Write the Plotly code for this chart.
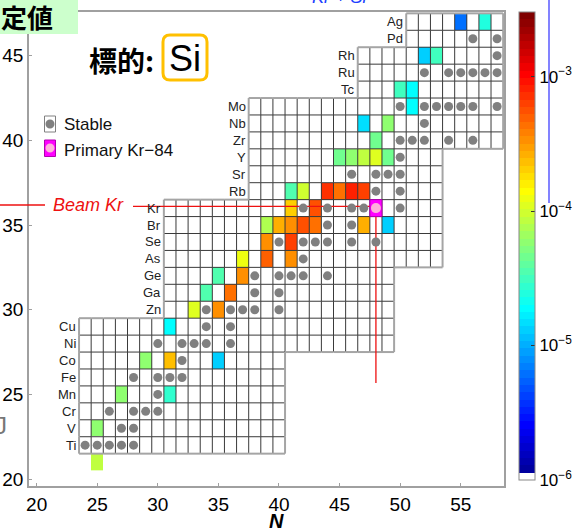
import math
import plotly.graph_objects as go

# ---------------- data ----------------
elements = ['Ti', 'V', 'Cr', 'Mn', 'Fe', 'Co', 'Ni', 'Cu', 'Zn', 'Ga', 'Ge', 'As', 'Se',
            'Br', 'Kr', 'Rb', 'Sr', 'Y', 'Zr', 'Nb', 'Mo', 'Tc', 'Ru', 'Rh', 'Pd', 'Ag']
element_Z = list(range(22, 48))
row_Nmin = [24] * 8 + [31] * 7 + [38] * 6 + [47] * 3 + [51] * 2
row_Nmax = [40] * 6 + [49] * 5 + [53] * 7 + [58] * 8

stable_Z = [22, 23, 24, 25, 26, 27, 28, 29, 30, 31, 32, 33, 34, 35, 36, 37, 38, 39,
            40, 41, 42, 44, 45, 46]
stable_N = [[24, 25, 26, 27, 28], [27, 28], [26, 28, 29, 30], [30], [28, 30, 31, 32],
            [32], [30, 32, 33, 34, 36], [34, 36], [34, 36, 37, 38, 40], [38, 40],
            [38, 40, 41, 42, 44], [42], [40, 42, 43, 44, 46, 48], [44, 46],
            [42, 44, 46, 47, 50], [48, 50], [46, 48, 49, 50], [50],
            [50, 51, 52, 54, 56], [52], [50, 52, 53, 54, 55, 56, 58],
            [52, 54, 55, 56, 57, 58], [58], [56, 58]]

primary_Z = 36
primary_N = 48
primary_name = 'Kr-84'

yield_Z = [21, 23, 25, 25, 27, 27, 27, 29, 30, 30, 31, 31, 32, 32, 33, 33, 33, 34, 34,
           35, 35, 35, 35, 35, 35, 35, 36, 36, 37, 37, 37, 37, 37, 37, 39, 39, 39, 39, 39,
           40, 41, 41, 42, 43, 43, 45, 45, 47, 47]
yield_N = [25, 25, 27, 31, 29, 31, 35, 31, 33, 35, 34, 36, 35, 37, 37, 39, 41, 39, 41,
           39, 40, 41, 42, 43, 47, 49, 41, 43, 41, 42, 44, 45, 46, 47, 45, 46, 47, 48, 49,
           48, 47, 49, 51, 50, 51, 52, 53, 55, 57]
yield_value = [8.9e-5, 5.6e-5, 5.6e-5, 2.7e-5, 5.5e-5, 2.45e-4, 1.3e-5, 1.8e-5, 1.05e-4,
               3.2e-4, 3.7e-5, 4.1e-4, 3.7e-5, 3.2e-4, 1.17e-4, 4.8e-4, 3.3e-4, 3.2e-4,
               6.6e-4, 7.9e-5, 2.6e-4, 3.3e-4, 5.9e-4, 4.1e-4, 2.7e-4, 1.3e-5, 1.95e-4,
               5.9e-4, 3.7e-5, 9.5e-5, 7.0e-4, 4.6e-4, 8.3e-4, 6.6e-4, 4.3e-5, 5.5e-5,
               8.9e-5, 1.05e-4, 4.3e-5, 4.3e-5, 1.4e-5, 6.2e-5, 1.8e-5, 2.95e-5, 1.8e-5,
               1.23e-5, 2.95e-5, 5.8e-6, 2.5e-5]

x_ticks = [20, 25, 30, 35, 40, 45, 50, 55]
y_ticks = [20, 25, 30, 35, 40, 45]
cbar_tickvals = [-6, -5, -4, -3]
cbar_ticktext = ['10<sup>−6</sup>', '10<sup>−5</sup>', '10<sup>−4</sup>', '10<sup>−3</sup>']
cbar_minor = [-5.5, -4.5, -3.5]

# ---------------- geometry helpers ----------------
W, H = 585, 532
ML, MR, MT, MB = 29, 81, 12, 46
PW, PH = W - ML - MR, H - MT - MB
XR = [19.37, 58.57]
YR = [19.59, 47.58]
CMIN, CMAX = -6, -2.52


def dx(px):
    return XR[0] + (px - ML) * (XR[1] - XR[0]) / PW


def dy(py):
    return YR[0] + (H - MB - py) * (YR[1] - YR[0]) / PH


def pxp(px):
    return (px - ML) / PW


def pyp(py):
    return (H - MB - py) / PH


FONT = 'Liberation Sans, Arial, sans-serif'
CJK = 'Noto Sans CJK JP, sans-serif'

# ---------------- heatmap matrix ----------------
Ns = list(range(24, 59))
Zs = list(range(21, 48))
zmat = [[None] * len(Ns) for _ in Zs]
for Z, N, v in zip(yield_Z, yield_N, yield_value):
    zmat[Z - Zs[0]][N - Ns[0]] = math.log10(v)


def clip(v):
    return max(0.0, min(1.0, v))


cs = []
for i in range(64):
    if i == 0:
        c = 'rgb(255,255,255)'
    else:
        t = (i + 1) / 64
        r = clip(1.5 - abs(4 * t - 3))
        g = clip(1.5 - abs(4 * t - 2))
        b = clip(1.5 - abs(4 * t - 1))
        c = 'rgb(%d,%d,%d)' % (round(r * 255), round(g * 255), round(b * 255))
    cs.append([i / 64, c])
    cs.append([(i + 1) / 64, c])

CB_LEFT, CB_W, CB_TOP, CB_LEN = 519, 16, 12, 468

fig = go.Figure()
fig.add_trace(go.Heatmap(
    x=Ns, y=Zs, z=zmat, zmin=CMIN, zmax=CMAX, colorscale=cs, hoverinfo='skip',
    colorbar=dict(x=pxp(CB_LEFT), xanchor='left', xpad=0, y=pyp(CB_TOP), yanchor='top',
                  ypad=0, len=CB_LEN, lenmode='pixels', thickness=CB_W,
                  thicknessmode='pixels', outlinewidth=1, outlinecolor='#888',
                  tickvals=cbar_tickvals, ticktext=cbar_ticktext, ticks='inside',
                  ticklen=4, tickcolor='#333',
                  tickfont=dict(size=17, family=FONT, color='black'))
))

# ---------------- grid ----------------
cells = set()
for Z, a, b in zip(element_Z, row_Nmin, row_Nmax):
    for N in range(a, b + 1):
        cells.add((Z, N))

inx, iny, outx, outy = [], [], [], []
for (Z, N) in sorted(cells):
    sides = [((Z, N - 1), (N - 0.5, Z - 0.5), (N - 0.5, Z + 0.5), False),
             ((Z, N + 1), (N + 0.5, Z - 0.5), (N + 0.5, Z + 0.5), True),
             ((Z - 1, N), (N - 0.5, Z - 0.5), (N + 0.5, Z - 0.5), False),
             ((Z + 1, N), (N - 0.5, Z + 0.5), (N + 0.5, Z + 0.5), True)]
    for nb, p0, p1, own in sides:
        if nb in cells:
            if own:
                inx += [p0[0], p1[0], None]
                iny += [p0[1], p1[1], None]
        else:
            outx += [p0[0], p1[0], None]
            outy += [p0[1], p1[1], None]

fig.add_trace(go.Scatter(x=inx, y=iny, mode='lines', line=dict(color='#3a3a3a', width=1),
                         hoverinfo='skip', showlegend=False))
fig.add_trace(go.Scatter(x=outx, y=outy, mode='lines', line=dict(color='#a5a5a5', width=2),
                         hoverinfo='skip', showlegend=False))

# beam line inside plot
beam_y = primary_Z + 0.1
fig.add_trace(go.Scatter(x=[dx(133), primary_N, primary_N], y=[beam_y, beam_y, dy(383)],
                         mode='lines', line=dict(color='#ee1111', width=1.3),
                         hoverinfo='skip', showlegend=False))

# primary cell
fig.add_trace(go.Scatter(
    x=[primary_N - 0.5, primary_N + 0.5, primary_N + 0.5, primary_N - 0.5, primary_N - 0.5],
    y=[primary_Z - 0.5, primary_Z - 0.5, primary_Z + 0.5, primary_Z + 0.5, primary_Z - 0.5],
    mode='lines', fill='toself', fillcolor='#ff00ff', line=dict(color='#b000b0', width=1),
    hoverinfo='skip', showlegend=False))

# stable dots
sx, sy = [], []
for Z, Nl in zip(stable_Z, stable_N):
    for N in Nl:
        sx.append(N)
        sy.append(Z)
fig.add_trace(go.Scatter(x=sx, y=sy, mode='markers', marker=dict(color='#808080', size=9),
                         hoverinfo='skip', showlegend=False))
fig.add_trace(go.Scatter(x=[primary_N], y=[primary_Z], mode='markers',
                         marker=dict(color='#ffb0dc', size=10), hoverinfo='skip',
                         showlegend=False))

# ---------------- shapes ----------------
shapes = []
# minor colorbar ticks (half decades)
for v in cbar_minor:
    py = CB_TOP + (CMAX - v) / (CMAX - CMIN) * CB_LEN
    shapes.append(dict(type='line', xref='paper', yref='paper', x0=pxp(CB_LEFT + CB_W - 4),
                       x1=pxp(CB_LEFT + CB_W), y0=pyp(py), y1=pyp(py),
                       line=dict(color='#333', width=1), layer='above'))
# green header box
shapes.append(dict(type='rect', xref='paper', yref='paper', x0=pxp(-2), x1=pxp(78),
                   y0=pyp(34), y1=pyp(-2), fillcolor='#ccffcc', line=dict(width=0),
                   layer='above'))
# Si rounded box
x0, x1, y0, y1 = pxp(163), pxp(207), pyp(80), pyp(35)
rx, ry = 7 / PW, 7 / PH
path = ('M %f,%f L %f,%f Q %f,%f %f,%f L %f,%f Q %f,%f %f,%f L %f,%f Q %f,%f %f,%f '
        'L %f,%f Q %f,%f %f,%f Z') % (
    x0 + rx, y0, x1 - rx, y0, x1, y0, x1, y0 + ry, x1, y1 - ry, x1, y1, x1 - rx, y1,
    x0 + rx, y1, x0, y1, x0, y1 - ry, x0, y0 + ry, x0, y0, x0 + rx, y0)
shapes.append(dict(type='path', xref='paper', yref='paper', path=path,
                   line=dict(color='#ffc000', width=3), fillcolor='white', layer='above'))
# blue vertical line (right side)
shapes.append(dict(type='line', xref='paper', yref='paper', x0=pxp(549), x1=pxp(549),
                   y0=pyp(203), y1=pyp(-2), line=dict(color='#3030ff', width=1.2)))
# beam line outside plot (left)
shapes.append(dict(type='line', xref='paper', yref='paper', x0=pxp(0), x1=pxp(45),
                   y0=pyp(205), y1=pyp(205), line=dict(color='#ee1111', width=1.3)))
# legend cells
shapes.append(dict(type='rect', xref='paper', yref='paper', x0=pxp(44.5), x1=pxp(55.5),
                   y0=pyp(132), y1=pyp(116), fillcolor='white',
                   line=dict(color='#808080', width=1), layer='above'))
shapes.append(dict(type='circle', xref='paper', yref='paper', xsizemode='pixel',
                   ysizemode='pixel', xanchor=pxp(50), yanchor=pyp(124), x0=-4.5, x1=4.5,
                   y0=-4.5, y1=4.5, fillcolor='#808080', line=dict(width=0), layer='above'))
shapes.append(dict(type='rect', xref='paper', yref='paper', x0=pxp(44.5), x1=pxp(55.5),
                   y0=pyp(156.5), y1=pyp(140), fillcolor='#ff00ff',
                   line=dict(color='#b000b0', width=1), layer='above'))
shapes.append(dict(type='circle', xref='paper', yref='paper', xsizemode='pixel',
                   ysizemode='pixel', xanchor=pxp(50), yanchor=pyp(148), x0=-4.5, x1=4.5,
                   y0=-4.5, y1=4.5, fillcolor='#ffb0dc', line=dict(width=0), layer='above'))

# ---------------- annotations ----------------
ann = []
for Z, name, a in zip(element_Z, elements, row_Nmin):
    ann.append(dict(x=a - 0.5, y=Z, xref='x', yref='y', text=name, showarrow=False,
                    xanchor='right', yanchor='middle', xshift=-1,
                    font=dict(size=13, family=FONT, color='#222')))
ann.append(dict(x=pxp(88), y=pyp(205), xref='paper', yref='paper', text='<i>Beam Kr</i>',
                showarrow=False, xanchor='center', yanchor='middle',
                font=dict(size=18, family=FONT, color='#ee1111')))
ann.append(dict(x=pxp(62), y=pyp(124), xref='paper', yref='paper', text='Stable',
                showarrow=False, xanchor='left', yanchor='middle',
                font=dict(size=17, family=FONT, color='#111')))
ann.append(dict(x=pxp(62), y=pyp(150), xref='paper', yref='paper',
                text='Primary ' + primary_name.replace('-', '−'),
                showarrow=False, xanchor='left', yanchor='middle',
                font=dict(size=17, family=FONT, color='#111')))
ann.append(dict(x=pxp(121), y=pyp(60), xref='paper', yref='paper', text='<b>標的:</b>',
                showarrow=False, xanchor='center', yanchor='middle',
                font=dict(size=28, family=CJK, color='black')))
ann.append(dict(x=pxp(185), y=pyp(58), xref='paper', yref='paper', text='Si',
                showarrow=False, xanchor='center', yanchor='middle',
                font=dict(size=36, family=FONT, color='black')))
ann.append(dict(x=pxp(55), y=pyp(16), xref='paper', yref='paper', text='<b>定値</b>',
                showarrow=False, xanchor='right', yanchor='middle',
                font=dict(size=26, family=CJK, color='black')))
ann.append(dict(x=pxp(340), y=pyp(8.5), xref='paper', yref='paper', text='<i>Kr + Si</i>',
                showarrow=False, xanchor='center', yanchor='bottom',
                font=dict(size=18, family=FONT, color='#2040ff')))
ann.append(dict(x=pxp(276), y=pyp(521), xref='paper', yref='paper', text='<b><i>N</i></b>',
                showarrow=False, xanchor='center', yanchor='middle',
                font=dict(size=20, family=FONT, color='black')))
ann.append(dict(x=pxp(9), y=pyp(425), xref='paper', yref='paper', text='J',
                showarrow=False, xanchor='right', yanchor='middle',
                font=dict(size=24, family=FONT, color='#777')))

axis_common = dict(showgrid=False, zeroline=False, showline=True, linecolor='#a0a0a0',
                   linewidth=1.5, mirror=True, ticks='inside', ticklen=3,
                   tickcolor='#a0a0a0', automargin=False,
                   tickfont=dict(size=19, family=FONT, color='black'))
fig.update_layout(
    width=W, height=H, margin=dict(l=ML, r=MR, t=MT, b=MB, pad=0, autoexpand=False),
    paper_bgcolor='white', plot_bgcolor='white', showlegend=False,
    shapes=shapes, annotations=ann,
    xaxis=dict(range=XR, tickvals=x_ticks, **axis_common),
    yaxis=dict(range=YR, tickvals=y_ticks, **axis_common),
)

fig.write_html('out.html')
